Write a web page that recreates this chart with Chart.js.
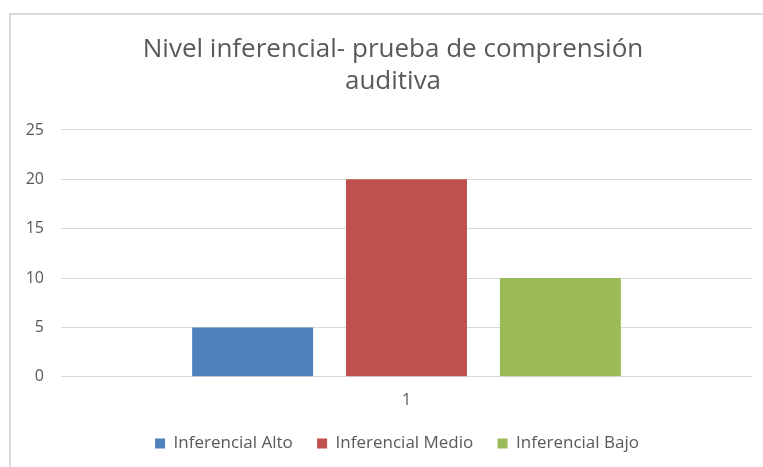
<!DOCTYPE html>
<html>
<head>
<meta charset="utf-8">
<script src="https://cdn.jsdelivr.net/npm/chart.js@4"></script>
<style>
  html, body { margin: 0; padding: 0; background: #fff; overflow: hidden; }
  #frame { position: absolute; left: 9px; top: 13px; width: 800px; height: 500px; border: 2px solid #d9d9d9; }
  #wrap { position: absolute; left: 0; top: 0; width: 763px; height: 467px; }
</style>
</head>
<body>
<div id="frame"></div>
<div id="wrap"><canvas id="chart"></canvas></div>
<script>
  var categories = ['1'];
  var seriesNames = ['Inferencial Alto', 'Inferencial Medio', 'Inferencial Bajo'];
  var seriesValues = [[5], [20], [10]];
  var seriesColors = ['#4f81bd', '#c0504d', '#9bbb59'];
  var yTicks = [0, 5, 10, 15, 20, 25];

  var textColor = '#595959';
  var fontFamily = '"Open Sans", Lato, sans-serif';

  var datasets = [];
  for (var i = 0; i < seriesNames.length; i++) {
    datasets.push({
      label: seriesNames[i],
      data: seriesValues[i],
      backgroundColor: seriesColors[i],
      borderWidth: 0,
      categoryPercentage: 0.668,
      barPercentage: 0.786
    });
  }

  // nudge title and legend a few px right, like the original
  var boxShift = {
    id: 'boxShift',
    afterLayout: function(chart) {
      if (chart.titleBlock) chart.titleBlock.left += 10;
      if (chart.legend) { chart.legend.left += 9; chart.legend.right += 9; }
    }
  };

  new Chart(document.getElementById('chart'), {
    type: 'bar',
    data: { labels: categories, datasets: datasets },
    plugins: [boxShift],
    options: {
      responsive: true,
      maintainAspectRatio: false,
      animation: false,
      layout: { padding: { left: 24, right: 11, top: 0, bottom: 5 } },
      plugins: {
        title: {
          display: true,
          text: ['Nivel inferencial- prueba de comprensión', 'auditiva'],
          color: textColor,
          font: { family: fontFamily, size: 26, weight: 'normal', lineHeight: 1.23 },
          padding: { top: 34, bottom: 32 }
        },
        legend: {
          position: 'bottom',
          labels: {
            color: textColor,
            font: { family: fontFamily, size: 17 },
            boxWidth: 10,
            boxHeight: 10,
            padding: 11,
            // extra gap between legend entries without adding vertical space
            generateLabels: function(chart) {
              var items = Chart.defaults.plugins.legend.labels.generateLabels(chart);
              for (var k = 0; k < items.length - 1; k++) items[k].text += '   ';
              return items;
            }
          }
        },
        tooltip: { enabled: false }
      },
      scales: {
        x: {
          grid: { display: false, drawTicks: false },
          border: { display: false },
          ticks: { color: textColor, font: { family: fontFamily, size: 16 }, padding: 14 }
        },
        y: {
          min: 0,
          max: 25,
          afterBuildTicks: function(axis) {
            axis.ticks = yTicks.map(function(v) { return { value: v }; });
          },
          afterFit: function(axis) { axis.width = 37; },
          grid: { color: '#d9d9d9', lineWidth: 1, drawTicks: false },
          border: { display: false },
          ticks: { color: textColor, font: { family: fontFamily, size: 16 }, padding: 17 }
        }
      }
    }
  });
</script>
</body>
</html>
